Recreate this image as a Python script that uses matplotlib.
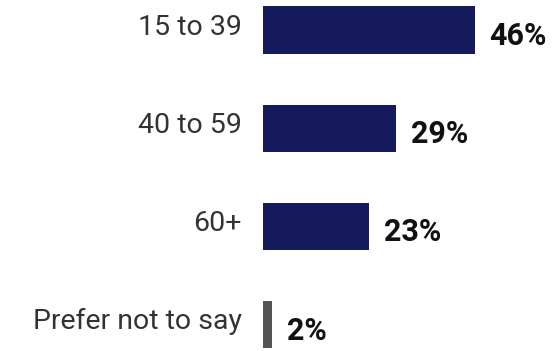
import matplotlib.pyplot as plt

categories = ['15 to 39', '40 to 59', '60+', 'Prefer not to say']
values = [46, 29, 23, 2]
colors = ['#141a5b', '#141a5b', '#141a5b', '#555555']

fig = plt.figure(figsize=(5.6, 3.51), dpi=100)
ax = fig.add_axes([263 / 560, 0, 297 / 560, 1])

ypos = list(range(len(categories)))
ax.barh(ypos, values, height=0.48, color=colors)
ax.set_xlim(0, 297 / 4.6)
ax.set_ylim(3.266, -0.305)

for y, v, lab in zip(ypos, values, categories):
    ax.text(v + 3.2, y + 0.06, f'{v}%', va='center', ha='left',
            fontsize=22, fontweight='bold', family='Roboto', color='#111111')
    ax.text(-4.6, y - 0.03, lab, va='center', ha='right',
            fontsize=20.5, family='Roboto', color='#333333')

ax.axis('off')
fig.savefig('out.png', dpi=100, facecolor='white')
